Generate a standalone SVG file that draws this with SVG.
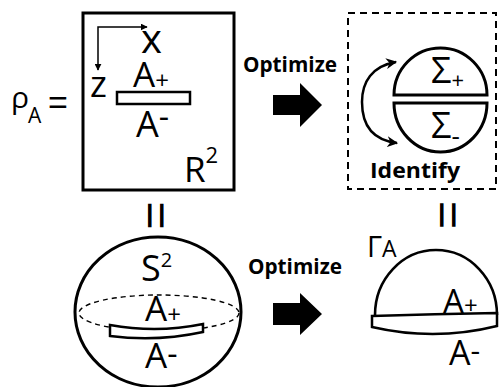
<svg xmlns="http://www.w3.org/2000/svg" width="499" height="387" viewBox="0 0 499 387">
<style>
.t{font-family:"Open Sans","Liberation Sans",sans-serif;fill:#000}
.b{font-family:"Open Sans","Liberation Sans",sans-serif;font-weight:bold;fill:#000}
.eq{font-family:"Liberation Sans",Arial,sans-serif;fill:#000}
.s{fill:none;stroke:#000;stroke-width:3}
.sw{fill:#fff;stroke:#000;stroke-width:2.5}
</style>
<defs>
<marker id="ah" viewBox="0 0 10 10" refX="9" refY="5" markerWidth="7" markerHeight="7" markerUnits="userSpaceOnUse" orient="auto-start-reverse"><path d="M0,0 L10,5 L0,10 Z" fill="#000"/></marker>
<marker id="ab" viewBox="0 0 10 10" refX="9" refY="5" markerWidth="11" markerHeight="11" markerUnits="userSpaceOnUse" orient="auto-start-reverse"><path d="M0,0 L10,5 L0,10 L3,5 Z" fill="#000"/></marker>
</defs>

<g id="rho-label">
<text class="t" x="11" y="108" font-size="30">ρ</text>
<text class="t" x="28" y="123" font-size="21">A</text>
<text class="eq" x="48" y="114" font-size="34">=</text>
</g>

<g id="plane">
<rect class="s" x="83" y="13" width="151" height="177"/>
<path d="M98,70 L98,27 L147,27" fill="none" stroke="#000" stroke-width="1.5" marker-start="url(#ah)" marker-end="url(#ah)"/>
<text class="t" x="141" y="53" font-size="40">x</text>
<text class="t" x="90" y="97" font-size="36">z</text>
<text class="t" x="133" y="87" font-size="35">A<tspan font-size="24" dy="2">+</tspan></text>
<rect class="sw" x="117" y="92" width="73" height="12"/>
<text class="t" x="136" y="137" font-size="36">A<tspan font-size="32" dy="-9">-</tspan></text>
<text class="t" x="184" y="182" font-size="35">R<tspan font-size="22" dy="-19">2</tspan></text>
</g>

<g id="identify-box">
<rect x="348" y="13" width="148" height="176" fill="none" stroke="#000" stroke-width="2" stroke-dasharray="7 5"/>
<path class="s" d="M394,95 A46.5,47 0 0 1 487,95 Z" stroke-width="2.6"/>
<path class="s" d="M394,103 A46.5,49 0 0 0 487,103 Z" stroke-width="2.6"/>
<text class="t" x="431" y="83" font-size="36">Σ<tspan font-size="22" dy="5">+</tspan></text>
<text class="t" x="431" y="138" font-size="36">Σ<tspan font-size="26" dy="7">-</tspan></text>
<text class="b" x="370" y="178" font-size="21" textLength="90" lengthAdjust="spacingAndGlyphs">Identify</text>
</g>

<g id="sphere">
<ellipse class="s" cx="158" cy="312" rx="83" ry="75"/>
<ellipse cx="159" cy="313" rx="80" ry="18" fill="none" stroke="#000" stroke-width="1.4" stroke-dasharray="5 4"/>
<text class="t" x="141" y="281" font-size="36">S<tspan font-size="20" dy="-14">2</tspan></text>
<text class="t" x="145" y="321" font-size="35">A<tspan font-size="24" dy="2">+</tspan></text>
<path class="sw" d="M110,325 Q157,333.5 203,324 L203,332 Q157,342 110,336 Z"/>
<text class="t" x="145" y="368" font-size="35">A<tspan font-size="32" dy="-3">-</tspan></text>
</g>

<g id="dome">
<path d="M375,315 A61,65 0 0 1 497,315" fill="none" stroke="#000" stroke-width="2.6"/>
<text class="t" x="367" y="257" font-size="29">Γ</text>
<text class="t" x="382" y="257" font-size="23">A</text>
<text class="t" x="443" y="313" font-size="33">A<tspan font-size="24" dy="1">+</tspan></text>
<path class="sw" d="M372,316 Q435,314 497,313 L497,326 Q435,341.5 372,327 Z" stroke-width="2.8"/>
<text class="t" x="449" y="365" font-size="34">A<tspan font-size="30" dy="-4">-</tspan></text>
</g>

<g id="connectors">
<text class="b" x="243" y="72" font-size="20.5" textLength="94" lengthAdjust="spacingAndGlyphs">Optimize</text>
<path d="M273,95 L300,95 L300,83 L322,105 L300,127 L300,115 L273,115 Z" fill="#000"/>
<text class="b" x="248" y="274" font-size="20.5" textLength="94" lengthAdjust="spacingAndGlyphs">Optimize</text>
<path d="M273,303 L300,303 L300,293 L322,314 L300,335 L300,325 L273,325 Z" fill="#000"/>
<path d="M396,62 C372,66 362,82 362,102 C362,124 372,140 397,143" fill="none" stroke="#000" stroke-width="2.5" marker-start="url(#ab)" marker-end="url(#ab)"/>
<text class="eq" transform="translate(155.5,215.5) rotate(90)" x="0" y="15.4" font-size="48" text-anchor="middle">=</text>
<text class="eq" transform="translate(447,215) rotate(90)" x="0" y="15.4" font-size="48" text-anchor="middle">=</text>
</g>
</svg>
